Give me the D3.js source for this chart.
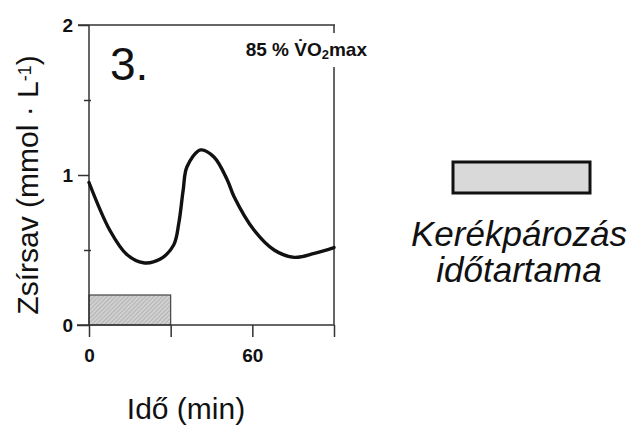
<!DOCTYPE html>
<html>
<head>
<meta charset="utf-8">
<script src="https://cdn.jsdelivr.net/npm/d3@7"></script>
<style>
  body { margin: 0; background: #fff; }
  text { font-family: "Liberation Sans", Arial, sans-serif; }
</style>
</head>
<body>
<svg id="chart"></svg>
<script>
// Chart data
const times  = [0, 7.7, 13.9, 20, 26.2, 31.1, 33, 34.6, 36, 41, 45.9, 50.8, 53.3, 60.6, 68, 75.4, 82.8, 90];
const values = [0.95, 0.63, 0.47, 0.415, 0.44, 0.533, 0.68, 0.9, 1.055, 1.167, 1.12, 0.967, 0.855, 0.633, 0.5, 0.451, 0.478, 0.516];
const cycling = [0, 30];      // exercise period (min)
const cyclingHeight = 0.2;    // height of the shaded bar
const xTicks = [0, 30, 60, 90];
const xTickLabels = ["0", "", "60", ""];
const yTicks = [0, 0.5, 1, 1.5, 2];
const yTickLabels = ["0", "", "1", "", "2"];

const width = 640, height = 432;
const svg = d3.select("#chart").attr("width", width).attr("height", height);

// Scales
const x = d3.scaleLinear().domain([0, 90]).range([89, 334]);
const y = d3.scaleLinear().domain([0, 2]).range([325, 25]);

// Hatch pattern for the cycling bar
const defs = svg.append("defs");
const pat = defs.append("pattern")
    .attr("id", "hatch")
    .attr("patternUnits", "userSpaceOnUse")
    .attr("width", 3).attr("height", 3)
    .attr("patternTransform", "rotate(45)");
pat.append("rect").attr("width", 3).attr("height", 3).attr("fill", "#d0d0d0");
pat.append("line").attr("x1", 0).attr("y1", 0).attr("x2", 0).attr("y2", 3)
    .attr("stroke", "#999").attr("stroke-width", 1);

// Shaded bar
svg.append("rect")
    .attr("x", x(cycling[0]))
    .attr("y", y(cyclingHeight))
    .attr("width", x(cycling[1]) - x(cycling[0]))
    .attr("height", y(0) - y(cyclingHeight))
    .attr("fill", "url(#hatch)")
    .attr("stroke", "#444")
    .attr("stroke-width", 1.2);

// Axes
const axisColor = "#333";
const yAxis = d3.axisLeft(y).tickValues(yTicks)
    .tickSize(11)
    .tickFormat((d, i) => yTickLabels[i]);
const gy = svg.append("g").attr("transform", `translate(${x(0)},0)`).call(yAxis);

const xAxis = d3.axisBottom(x).tickValues(xTicks)
    .tickSize(12)
    .tickFormat((d, i) => xTickLabels[i]);
const gx = svg.append("g").attr("transform", `translate(0,${y(0)})`).call(xAxis);

[gx, gy].forEach(g => {
  g.select(".domain").remove();
  g.selectAll(".tick line").attr("stroke", axisColor).attr("stroke-width", 1.5);
  g.selectAll(".tick text")
    .attr("fill", "#111")
    .style("font-size", "19px")
    .style("font-weight", "bold")
    .style("font-family", "'Liberation Sans', Arial, sans-serif");
});
// minor y ticks cross the axis
gy.selectAll(".tick line")
    .attr("x1", d => (d === 0.5 || d === 1.5 ? 2 : 0))
    .attr("x2", d => (d === 0 ? -12 : d === 0.5 || d === 1.5 ? -5 : -11));
gy.selectAll(".tick text").attr("x", -16).attr("dy", "0.36em");
gx.selectAll(".tick text").attr("y", 24);

// Frame lines
const frame = svg.append("g").attr("stroke", axisColor).attr("stroke-width", 1.5).attr("fill", "none");
frame.append("line").attr("x1", x(0)).attr("x2", x(0)).attr("y1", y(2)).attr("y2", y(0));
frame.append("line").attr("x1", x(0) - 12).attr("x2", x(90)).attr("y1", y(0)).attr("y2", y(0));
frame.append("line").attr("x1", x(0) - 11).attr("x2", x(90) + 1).attr("y1", y(2)).attr("y2", y(2));
frame.append("line").attr("x1", x(90)).attr("x2", x(90)).attr("y1", y(2)).attr("y2", y(2) + 8);
frame.append("line").attr("x1", x(90)).attr("x2", x(90)).attr("y1", 67).attr("y2", y(0));

// Curve
const line = d3.line()
    .x((d, i) => x(times[i]))
    .y(d => y(d))
    .curve(d3.curveCatmullRom.alpha(0.5));
svg.append("path")
    .datum(values)
    .attr("d", line)
    .attr("fill", "none")
    .attr("stroke", "#111")
    .attr("stroke-width", 3.4)
    .attr("stroke-linecap", "round");

// Panel number
svg.append("text")
    .attr("x", 110).attr("y", 80)
    .style("font-size", "46px")
    .attr("fill", "#111")
    .text("3.");

// Intensity label
const vo = svg.append("text")
    .attr("x", 367).attr("y", 56)
    .attr("text-anchor", "end")
    .style("font-size", "19px")
    .style("font-weight", "bold")
    .attr("fill", "#111");
vo.append("tspan").text("85 % V\u0307O");
vo.append("tspan").attr("baseline-shift", "-25%").style("font-size", "13px").text("2");
vo.append("tspan").text("max");

// Axis titles
svg.append("text")
    .attr("transform", "translate(38,185) rotate(-90)")
    .attr("text-anchor", "middle")
    .style("font-size", "30px")
    .attr("fill", "#111")
    .call(t => {
      t.append("tspan").text("Zsírsav (mmol · L");
      t.append("tspan").attr("baseline-shift", "40%").style("font-size", "18px").text("-1");
      t.append("tspan").text(")");
    });

svg.append("text")
    .attr("x", 186).attr("y", 419)
    .attr("text-anchor", "middle")
    .style("font-size", "30px")
    .attr("fill", "#111")
    .text("Idő (min)");

// Legend
svg.append("rect")
    .attr("x", 453).attr("y", 162)
    .attr("width", 137).attr("height", 31)
    .attr("fill", "#d9d9d9")
    .attr("stroke", "#111")
    .attr("stroke-width", 3);

const legendLines = ["Kerékpározás", "időtartama"];
svg.append("text")
    .attr("text-anchor", "middle")
    .style("font-size", "35px")
    .style("font-style", "italic")
    .attr("fill", "#111")
    .selectAll("tspan")
    .data(legendLines)
    .enter()
    .append("tspan")
    .attr("x", 519)
    .attr("y", (d, i) => 246 + i * 36)
    .text(d => d);
</script>
</body>
</html>
